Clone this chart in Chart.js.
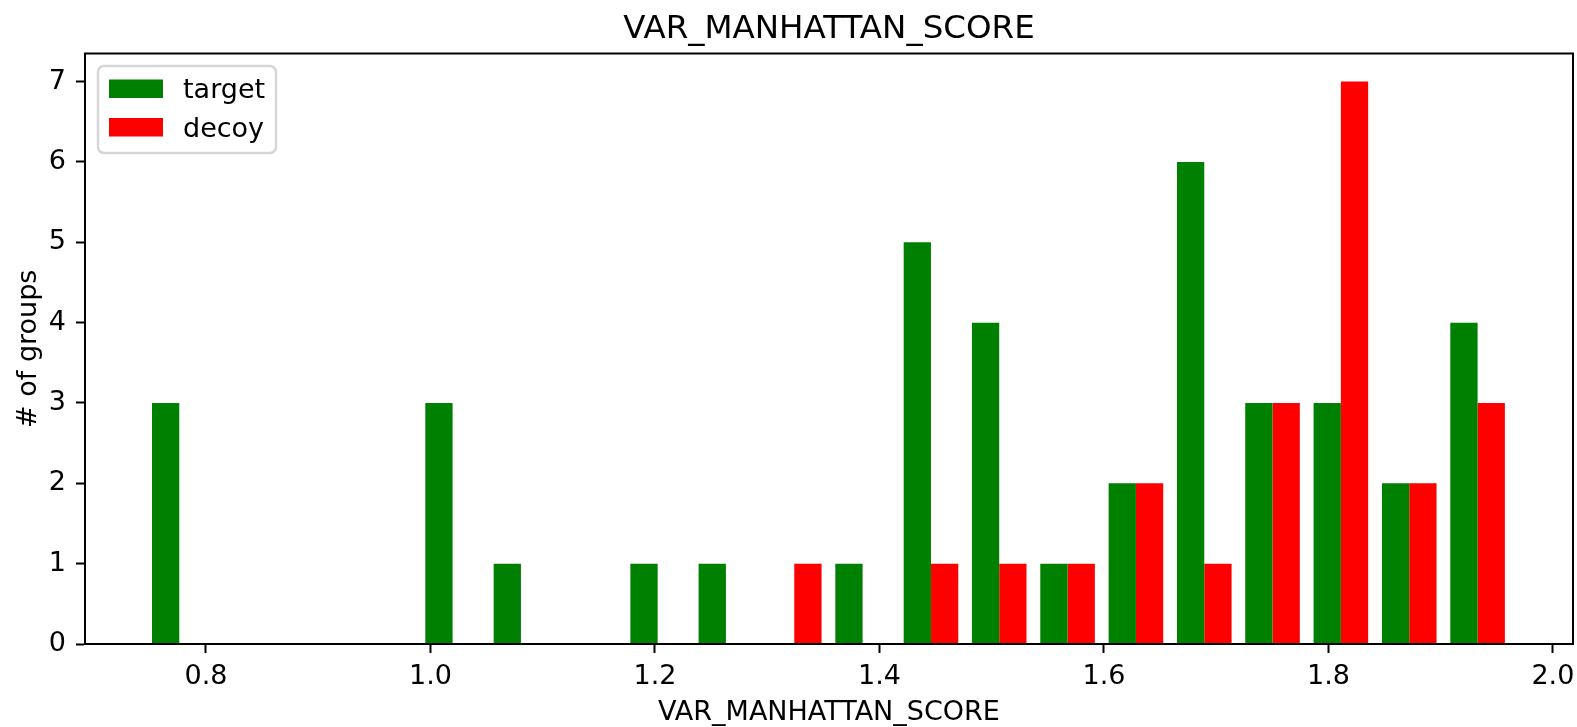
<!DOCTYPE html>
<html>
<head>
<meta charset="utf-8">
<script src="https://cdn.jsdelivr.net/npm/chart.js@4"></script>
<style>
  body { margin: 0; background: #fff; }
  canvas { display: block; }
</style>
</head>
<body>
<canvas id="myChart" width="1577" height="727"></canvas>
<script>
// histogram bins (centres), 20 bins
const binCenters = [0.7762, 0.8371, 0.8980, 0.9589, 1.0197, 1.0806, 1.1415, 1.2024, 1.2632, 1.3241,
  1.3850, 1.4459, 1.5067, 1.5676, 1.6285, 1.6894, 1.7502, 1.8111, 1.8720, 1.9329];
const targetCounts = [3, 0, 0, 0, 3, 1, 0, 1, 1, 0, 1, 5, 4, 1, 2, 6, 3, 3, 2, 4];
const decoyCounts = [0, 0, 0, 0, 0, 0, 0, 0, 0, 1, 0, 1, 1, 1, 2, 1, 3, 7, 2, 3];
const xTicks = [0.8, 1.0, 1.2, 1.4, 1.6, 1.8, 2.0];
const yTicks = [0, 1, 2, 3, 4, 5, 6, 7];
const chartTitle = "VAR_MANHATTAN_SCORE";

const FONT = "'DejaVu Sans', sans-serif";
Chart.defaults.font.family = FONT;
Chart.defaults.color = "#000";

const ctx = document.getElementById("myChart").getContext("2d");

// title centred over the axes, frame and legend like matplotlib
const frameAndLegend = {
  id: "frameAndLegend",
  afterDraw(chart) {
    const c = chart.ctx;
    const a = chart.chartArea;
    c.save();
    c.fillStyle = "#000";
    c.font = "32.5px " + FONT;
    c.textAlign = "center";
    c.textBaseline = "alphabetic";
    c.fillText(chartTitle, (a.left + a.right) / 2, 37.5);

    c.strokeStyle = "#000";
    c.lineWidth = 2;
    c.strokeRect(a.left, a.top, a.right - a.left, a.bottom - a.top);

    // legend box
    const bx = 98, by = 66, bw = 178, bh = 87;
    c.beginPath();
    c.roundRect(bx, by, bw, bh, 6);
    c.fillStyle = "rgba(255,255,255,0.8)";
    c.fill();
    c.lineWidth = 2.5;
    c.strokeStyle = "#d6d6d6";
    c.stroke();

    c.font = "27px " + FONT;
    c.textAlign = "left";
    chart.data.datasets.forEach((ds, i) => {
      const py = 79.5 + i * 38.5;
      c.fillStyle = ds.backgroundColor;
      c.fillRect(109, py, 54, 18.5);
      c.fillStyle = "#000";
      c.fillText(ds.label, 183, py + 18.5);
    });
    c.restore();
  },
};

const tickGrid = {
  display: true,
  offset: false,
  drawOnChartArea: false,
  drawTicks: true,
  tickLength: 9,
  tickWidth: 2,
  tickColor: "#000",
};

const myChart = new Chart(ctx, {
  type: "bar",
  data: {
    datasets: [
      {
        label: "target",
        data: binCenters.map((x, i) => ({ x: x, y: targetCounts[i] })),
        backgroundColor: "#008000",
        borderWidth: 0,
      },
      {
        label: "decoy",
        data: binCenters.map((x, i) => ({ x: x, y: decoyCounts[i] })),
        backgroundColor: "#ff0000",
        borderWidth: 0,
      },
    ],
  },
  options: {
    responsive: false,
    devicePixelRatio: 1,
    animation: false,
    categoryPercentage: 0.8,
    barPercentage: 1.0,
    layout: { padding: { left: 0, right: 4, top: 53.5, bottom: 0 } },
    plugins: {
      legend: { display: false },
      tooltip: { enabled: false },
      title: { display: false },
    },
    scales: {
      x: {
        type: "linear",
        min: 0.6922,
        max: 2.0179,
        offset: false,
        afterBuildTicks: (scale) => {
          scale.ticks = xTicks.map((v) => ({ value: v }));
        },
        afterFit: (scale) => {
          scale.height = 83;
          scale.paddingLeft = 0;
          scale.paddingRight = 0;
        },
        ticks: {
          autoSkip: false,
          maxRotation: 0,
          padding: 8,
          color: "#000",
          font: { size: 27 },
          callback: (v) => Number(v).toFixed(1),
        },
        grid: tickGrid,
        border: { display: true, color: "#000", width: 2 },
        title: {
          display: true,
          text: "VAR_MANHATTAN_SCORE",
          color: "#000",
          font: { size: 27, lineHeight: 1.05 },
          padding: { top: 0, bottom: 0 },
        },
      },
      y: {
        type: "linear",
        min: 0,
        max: 7.35,
        afterBuildTicks: (scale) => {
          scale.ticks = yTicks.map((v) => ({ value: v }));
        },
        afterFit: (scale) => {
          scale.width = 85;
          scale.paddingTop = 0;
          scale.paddingBottom = 0;
        },
        ticks: {
          padding: 10,
          color: "#000",
          font: { size: 27 },
          callback: (v) => String(v),
        },
        grid: tickGrid,
        border: { display: true, color: "#000", width: 2 },
        title: {
          display: true,
          text: "# of groups",
          color: "#000",
          font: { size: 27 },
          padding: { top: 13, bottom: 0 },
        },
      },
    },
  },
  plugins: [frameAndLegend],
});
</script>
</body>
</html>
